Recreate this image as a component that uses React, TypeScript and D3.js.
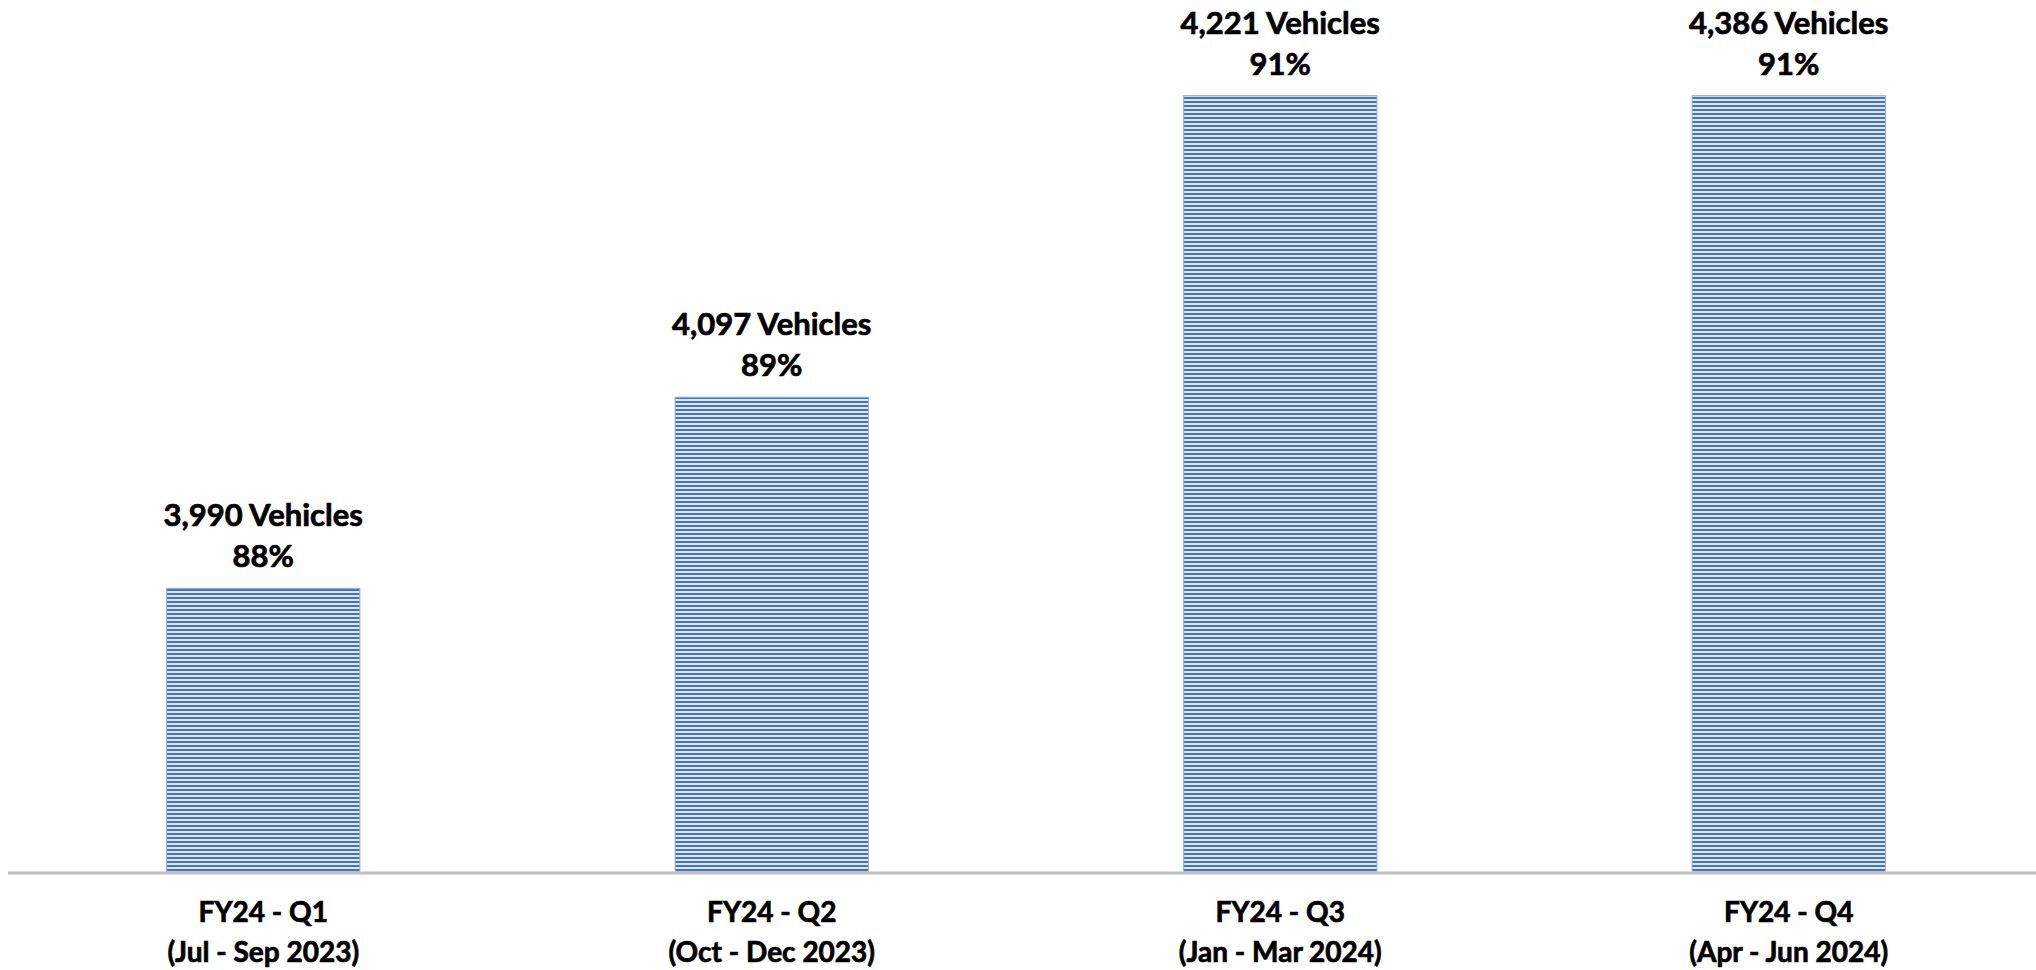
import React from "react";
import * as d3 from "d3";

const categories = ["FY24 - Q1", "FY24 - Q2", "FY24 - Q3", "FY24 - Q4"];
const periods = ["(Jul - Sep 2023)", "(Oct - Dec 2023)", "(Jan - Mar 2024)", "(Apr - Jun 2024)"];
const vehicles = [3990, 4097, 4221, 4386];
const pctLabels = [88, 89, 91, 91];
const pctValues = [87.9, 89.18, 91.2, 91.2];

const W = 2036;
const H = 970;

export default function App() {
  const x = d3.scaleBand<string>().domain(categories).range([9, 2043]).paddingInner(0.62).paddingOuter(0.31);
  const y = d3.scaleLinear().domain([86, 91.2]).range([872, 95.7]);
  const fmt = d3.format(",");
  const font = "Lato, 'Open Sans', sans-serif";
  const textProps = { fontFamily: font, fontWeight: 700, fill: "#000", stroke: "#000", strokeWidth: 0.7, textAnchor: "middle" as const };
  return (
    <svg width={W} height={H} style={{ position: "absolute", left: 0, top: 0, background: "#fff" }}>
      <defs>
        <pattern id="stripes" patternUnits="userSpaceOnUse" width={8} height={4} y={1}>
          <rect x={0} y={0} width={8} height={4} fill="#dfe7f5" />
          <rect x={0} y={0} width={8} height={2} fill="#4472c4" />
        </pattern>
      </defs>
      {categories.map((c, i) => {
        const x0 = x(c)!;
        const yt = y(pctValues[i]);
        const cx = x0 + x.bandwidth() / 2;
        return (
          <g key={c}>
            <rect x={x0} y={yt} width={x.bandwidth()} height={y(86) - yt} fill="url(#stripes)" stroke="#8faadc" strokeWidth={1} />
            <text x={cx} y={yt - 62} fontSize={31} {...textProps}>
              {fmt(vehicles[i])} Vehicles
            </text>
            <text x={cx} y={yt - 21} fontSize={31} {...textProps}>
              {pctLabels[i]}%
            </text>
            <text x={cx} y={922} fontSize={28} {...textProps}>
              {c}
            </text>
            <text x={cx} y={962} fontSize={28} {...textProps}>
              {periods[i]}
            </text>
          </g>
        );
      })}
      <line x1={8} x2={W} y1={y(86) + 1} y2={y(86) + 1} stroke="#bfbfbf" strokeWidth={3} />
    </svg>
  );
}
